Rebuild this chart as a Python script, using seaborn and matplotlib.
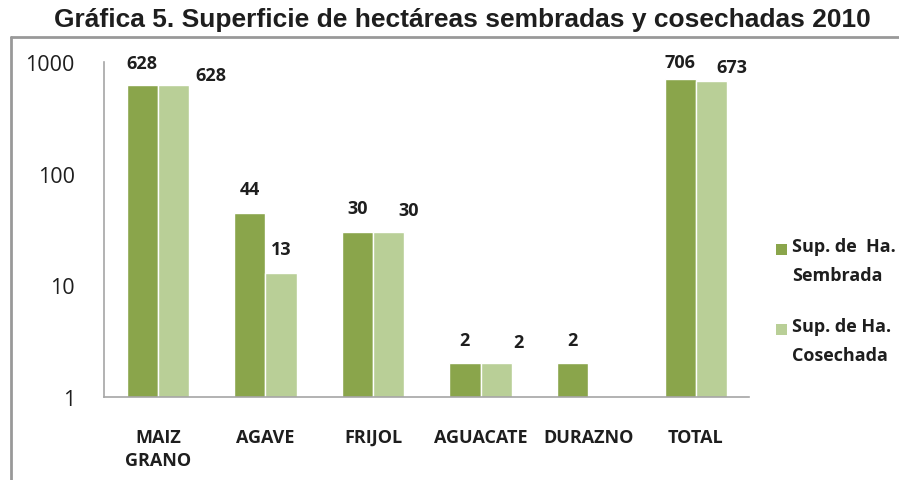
import numpy as np
import pandas as pd
import matplotlib
matplotlib.use("Agg")
import matplotlib.pyplot as plt
import seaborn as sns
from matplotlib.patches import Rectangle
from matplotlib.lines import Line2D

# data
categories = ["MAIZ\nGRANO", "AGAVE", "FRIJOL", "AGUACATE", "DURAZNO", "TOTAL"]
sembrada = [628, 44, 30, 2, 2, 706]
cosechada = [628, 13, 30, 2, np.nan, 673]
series = ["Sup. de  Ha.\nSembrada", "Sup. de Ha.\nCosechada"]
colors = ["#8AA54B", "#B9CF97"]

# label offsets in pixels (dx, dy) to mimic the original placement
sem_off = [(0, 22), (0, 24), (0, 24), (0, 23), (0, 23), (0, 17)]
cos_off = [(37, 10), (0, 24), (20, 22), (22, 21), (0, 0), (21, 14)]

df = pd.DataFrame({
    "cat": categories * 2,
    "val": sembrada + cosechada,
    "serie": [series[0]] * len(categories) + [series[1]] * len(categories),
})

sns.set_style("white")
plt.rcParams["font.family"] = ["Open Sans", "DejaVu Sans"]

fig = plt.figure(figsize=(8.99, 4.81), dpi=100)
ax = fig.add_axes([0.1157, 0.1726, 0.718, 0.6965])

sns.barplot(data=df, x="cat", y="val", hue="serie", order=categories,
            hue_order=series, palette=colors, width=0.58, gap=0,
            saturation=1, errorbar=None, ax=ax, legend=False)

ax.set_yscale("log")
ax.set_ylim(1, 1000)
ax.set_xlim(-0.5, len(categories) - 0.5)
ax.set_yticks([1, 10, 100, 1000])
ax.set_yticklabels(["1", "10", "100", "1000"])
ax.yaxis.set_minor_locator(matplotlib.ticker.NullLocator())
ax.set_xlabel("")
ax.set_ylabel("")

# excel-like axes
for s in ["top", "right"]:
    ax.spines[s].set_visible(False)
for s in ["left", "bottom"]:
    ax.spines[s].set_color("#A6A6A6")
    ax.spines[s].set_linewidth(1.2)

ax.set_xticks(np.arange(len(categories)))
ax.set_xticklabels(categories, fontweight="bold", fontsize=13, color="#1E1E1E",
                   linespacing=1.4)
ax.tick_params(axis="x", which="major", length=0, pad=22)
ax.set_xticks(np.arange(-0.5, len(categories)), minor=True)
ax.tick_params(axis="x", which="minor", length=6, width=1.2, color="#A6A6A6",
               direction="out")
ax.tick_params(axis="y", which="major", length=7, width=1.2, color="#A6A6A6",
               labelsize=15.5, pad=14, labelcolor="#1E1E1E", direction="out")

# value labels
for i, cont in enumerate(ax.containers):
    offs = sem_off if i == 0 else cos_off
    for p in cont.patches:
        h = p.get_height()
        if not np.isfinite(h) or h <= 0:
            continue
        xc = p.get_x() + p.get_width() / 2
        k = int(round(xc))
        ax.annotate(f"{h:.0f}", (xc, h), xytext=offs[k], textcoords="offset pixels",
                    ha="center", va="center", fontsize=13, fontweight="bold",
                    color="#1E1E1E", annotation_clip=False)

# legend (square aligned with the first text line, as in the original)
for j, (lab, c) in enumerate(zip(series, colors)):
    yc = 1 - (250 + 80 * j) / 481
    fig.patches.append(Rectangle((776 / 899, yc - 5.5 / 481), 11 / 899, 11 / 481,
                                 transform=fig.transFigure, facecolor=c,
                                 edgecolor="none"))
    fig.text(792 / 899, yc + 12 / 481, lab, ha="left", va="top", fontsize=13,
             fontweight="bold", color="#1E1E1E", linespacing=1.8)

fig.suptitle("Gráfica 5. Superficie de hectáreas sembradas y cosechadas 2010",
             x=0.514, y=0.958, va="center", fontsize=19, fontweight="bold",
             family="Liberation Sans", color="#1E1E1E")

# chart frame (top and left edges visible)
fig.add_artist(Line2D([0.012, 1.0], [0.921, 0.921], transform=fig.transFigure,
                      color="#999999", lw=2))
fig.add_artist(Line2D([0.012, 0.012], [0.0, 0.921], transform=fig.transFigure,
                      color="#999999", lw=2))

fig.savefig("out.png", dpi=100)
